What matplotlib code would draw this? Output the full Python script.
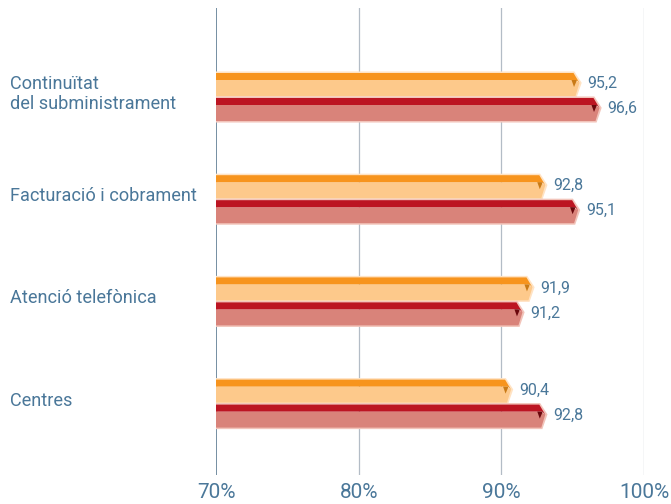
import matplotlib
matplotlib.use("Agg")
import matplotlib.pyplot as plt
from matplotlib.patches import Polygon

plt.rcParams['font.family'] = ['Roboto', 'DejaVu Sans']

categories = ["Continuïtat\ndel subministrament", "Facturació i cobrament",
              "Atenció telefònica", "Centres"]
serie_a = [95.2, 92.8, 91.9, 90.4]   # barra taronja
serie_b = [96.6, 95.1, 91.2, 92.8]   # barra vermella
ticks = [70, 80, 90, 100]
tick_labels = ["70%", "80%", "90%", "100%"]

TEXT = '#4a7799'
# colors: cara superior, cara frontal, ombra de la punta, vora clara
COL_A = ('#f7941d', '#fdc98b', '#c97a16', '#ffe3c4')
COL_B = ('#bc1522', '#d9837a', '#6a070c', '#f2c4ba')

fig = plt.figure(figsize=(6.71, 5.04), dpi=100)
ax = fig.add_axes([216 / 671, 1 - 475 / 504, 428 / 671, 467 / 504])

# conversions pixel -> dades
PX = 10 / 142.7
PY = 1 / 102.2
ax.set_xlim(70, 100)
ax.set_ylim((475 - 96.5) * PY, (8 - 96.5) * PY)

for x in ticks[1:]:
    ax.axvline(x, color='#b3bcc6', lw=0.9, zorder=0)
ax.axvline(70, color='#5d7c92', lw=1.2, zorder=0)


def barra(v, top, cols):
    s, h = 7 * PY, 23 * PY
    x0 = 70
    front = [(x0 - 5 * PX, top + s), (v - 1 * PX, top + s), (v + 4 * PX, top + 10 * PY),
             (v, top + h), (x0, top + h)]
    upper = [(x0, top), (v - 2 * PX, top), (v + 4 * PX, top + 10 * PY),
             (v + 1 * PX, top + s), (x0, top + s)]
    shade = [(v - 4 * PX, top + s), (v + 1.5 * PX, top + s), (v - 1.5 * PX, top + s + 7 * PY)]
    outline = [(x0, top), (v - 2 * PX, top), (v + 4.5 * PX, top + 10 * PY),
               (v, top + h), (x0, top + h), (x0 - 5 * PX, top + s), (x0, top + s)]
    ax.add_patch(Polygon(outline, closed=True, facecolor='none', edgecolor=cols[3],
                         lw=2.2, joinstyle='miter', zorder=2))
    ax.add_patch(Polygon(front, closed=True, facecolor=cols[1], edgecolor='none', zorder=3))
    ax.add_patch(Polygon(upper, closed=True, facecolor=cols[0], edgecolor='none', zorder=3))
    ax.add_patch(Polygon(shade, closed=True, facecolor=cols[2], edgecolor='none', zorder=4))
    ax.text(v + 12 * PX, top + 10.5 * PY, f"{v:.1f}".replace('.', ','), color=TEXT,
            fontsize=11.5, va='center', ha='left')


for i, (a, b) in enumerate(zip(serie_a, serie_b)):
    barra(a, i - 23.5 * PY, COL_A)
    barra(b, i + 1.5 * PY, COL_B)
    fig.text(10 / 671, 1 - (96.5 - 2.5 + i * 102.2) / 504, categories[i], color=TEXT,
             fontsize=13.1, ha='left', va='center', linespacing=1.1)

for x, lab in zip(ticks, tick_labels):
    fig.text((216 + (x - 70) * 14.27) / 671, 1 - 493 / 504, lab, color=TEXT,
             fontsize=15, ha='center', va='center')

ax.set_xticks([])
ax.set_yticks([])
for sp in ax.spines.values():
    sp.set_visible(False)

fig.savefig("out.png", dpi=100)
